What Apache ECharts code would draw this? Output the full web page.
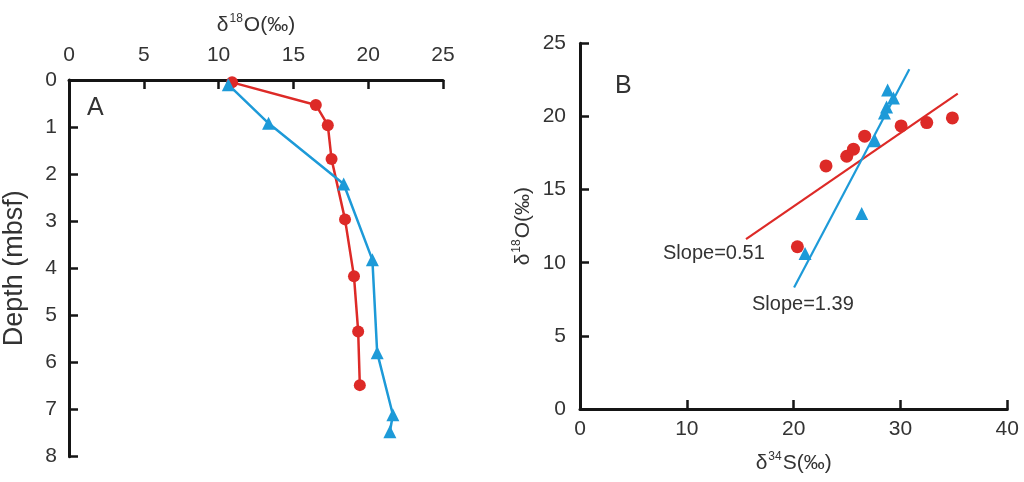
<!DOCTYPE html>
<html><head><meta charset="utf-8">
<script src="https://cdn.jsdelivr.net/npm/echarts@6/dist/echarts.min.js"></script>
<style>html,body{margin:0;padding:0;background:#fff}#c{width:1024px;height:482px}</style>
</head><body><div id="c"></div>
<script>
// Panel A: depth profiles of δ18O
const redA_x = [10.9, 16.5, 17.3, 17.55, 18.45, 19.05, 19.33, 19.44];
const redA_depth = [0.05, 0.53, 0.96, 1.68, 2.96, 4.17, 5.34, 6.48];
const blueA_x = [10.65, 13.34, 18.36, 20.28, 20.6, 21.65, 21.45];
const blueA_depth = [0.1, 0.92, 2.21, 3.82, 5.79, 7.11, 7.47];
// Panel B: δ18O vs δ34S
const redB_s = [20.35, 23.03, 24.97, 25.6, 26.65, 30.06, 32.46, 34.86];
const redB_o = [11.09, 16.62, 17.28, 17.76, 18.65, 19.35, 19.58, 19.9];
const blueB_s = [21.07, 26.37, 27.62, 28.5, 28.7, 29.34, 28.8];
const blueB_o = [10.63, 13.37, 18.33, 20.24, 20.65, 21.26, 21.8];
// regression line endpoints
const redFit_s = [15.54, 35.36];
const redFit_o = [11.61, 21.56];
const blueFit_s = [20.04, 30.83];
const blueFit_o = [8.31, 23.22];
// ticks
const ticksA_x = [0, 5, 10, 15, 20, 25];
const ticksA_y = [0, 1, 2, 3, 4, 5, 6, 7, 8];
const ticksB_x = [0, 10, 20, 30, 40];
const ticksB_y = [0, 5, 10, 15, 20, 25];

const RED = '#dd2a27', BLUE = '#1d9ad8';
const FONT = '"Liberation Sans",Arial,sans-serif';
const zip = (a, b) => a.map((v, i) => [v, b[i]]);

const axisCommon = {
  axisLine: {lineStyle: {color: '#151515', width: 3}},
  axisTick: {inside: true, length: 9, lineStyle: {color: '#151515', width: 2.5}},
  splitLine: {show: false},
  axisLabel: {fontFamily: FONT, fontSize: 21, color: '#333'},
  nameTextStyle: {fontFamily: FONT, fontSize: 21, color: '#333',
    rich: {
      t: {fontFamily: FONT, fontSize: 21, color: '#333'},
      s: {fontFamily: FONT, fontSize: 12, color: '#333', verticalAlign: 'top', padding: [0, 1, 12, 1]}
    }}
};

const chart = echarts.init(document.getElementById('c'));
chart.setOption({
  animation: false,
  grid: [
    {left: 65, top: 80, width: 378, height: 376.7},
    {left: 580, top: 43.3, width: 427.3, height: 365.7}
  ],
  xAxis: [
    Object.assign({}, axisCommon, {gridIndex: 0, type: 'value', position: 'top', min: ticksA_x[0], max: ticksA_x[ticksA_x.length - 1], interval: 5,
      axisLabel: Object.assign({}, axisCommon.axisLabel, {margin: 14}),
      name: '{t|δ}{s|18}{t|O(‰)}', nameLocation: 'middle', nameGap: 43}),
    Object.assign({}, axisCommon, {gridIndex: 1, type: 'value', min: ticksB_x[0], max: ticksB_x[ticksB_x.length - 1], interval: 10,
      axisLabel: Object.assign({}, axisCommon.axisLabel, {margin: 10}),
      name: '{t|δ}{s|34}{t|S(‰)}', nameLocation: 'middle', nameGap: 42})
  ],
  yAxis: [
    Object.assign({}, axisCommon, {gridIndex: 0, type: 'value', inverse: true, min: ticksA_y[0], max: ticksA_y[ticksA_y.length - 1], interval: 1,
      axisLabel: Object.assign({}, axisCommon.axisLabel, {margin: 12}),
      name: 'Depth (mbsf)', nameLocation: 'middle', nameGap: 41,
      nameTextStyle: {fontFamily: FONT, fontSize: 27, color: '#333'}}),
    Object.assign({}, axisCommon, {gridIndex: 1, type: 'value', min: ticksB_y[0], max: ticksB_y[ticksB_y.length - 1], interval: 5,
      axisLabel: Object.assign({}, axisCommon.axisLabel, {margin: 14}),
      name: '{t|δ}{s|18}{t|O(‰)}', nameLocation: 'middle', nameGap: 45})
  ],
  series: [
    {type: 'line', xAxisIndex: 0, yAxisIndex: 0, data: zip(redA_x, redA_depth),
      symbol: 'circle', symbolSize: 12, lineStyle: {color: RED, width: 2.5}, itemStyle: {color: RED}},
    {type: 'line', xAxisIndex: 0, yAxisIndex: 0, data: zip(blueA_x, blueA_depth),
      symbol: 'triangle', symbolSize: 13, lineStyle: {color: BLUE, width: 2.5}, itemStyle: {color: BLUE}},
    {type: 'line', xAxisIndex: 1, yAxisIndex: 1, data: zip(redFit_s, redFit_o),
      symbol: 'none', lineStyle: {color: RED, width: 2.2}},
    {type: 'scatter', xAxisIndex: 1, yAxisIndex: 1, data: zip(redB_s, redB_o),
      symbol: 'circle', symbolSize: 13, itemStyle: {color: RED, opacity: 1}},
    {type: 'line', xAxisIndex: 1, yAxisIndex: 1, data: zip(blueFit_s, blueFit_o),
      symbol: 'none', lineStyle: {color: BLUE, width: 2.2}},
    {type: 'scatter', xAxisIndex: 1, yAxisIndex: 1, data: zip(blueB_s, blueB_o),
      symbol: 'triangle', symbolSize: 13, itemStyle: {color: BLUE, opacity: 1}}
  ],
  graphic: [
    {type: 'text', left: 87, top: 96, style: {text: 'A', fontFamily: FONT, fontSize: 25, fill: '#333'}},
    {type: 'text', left: 615, top: 74, style: {text: 'B', fontFamily: FONT, fontSize: 25, fill: '#333'}},
    {type: 'text', left: 663, top: 243, style: {text: 'Slope=0.51', fontFamily: FONT, fontSize: 20, fill: '#333'}},
    {type: 'text', left: 752, top: 294, style: {text: 'Slope=1.39', fontFamily: FONT, fontSize: 20, fill: '#333'}}
  ]
});
</script></body></html>
